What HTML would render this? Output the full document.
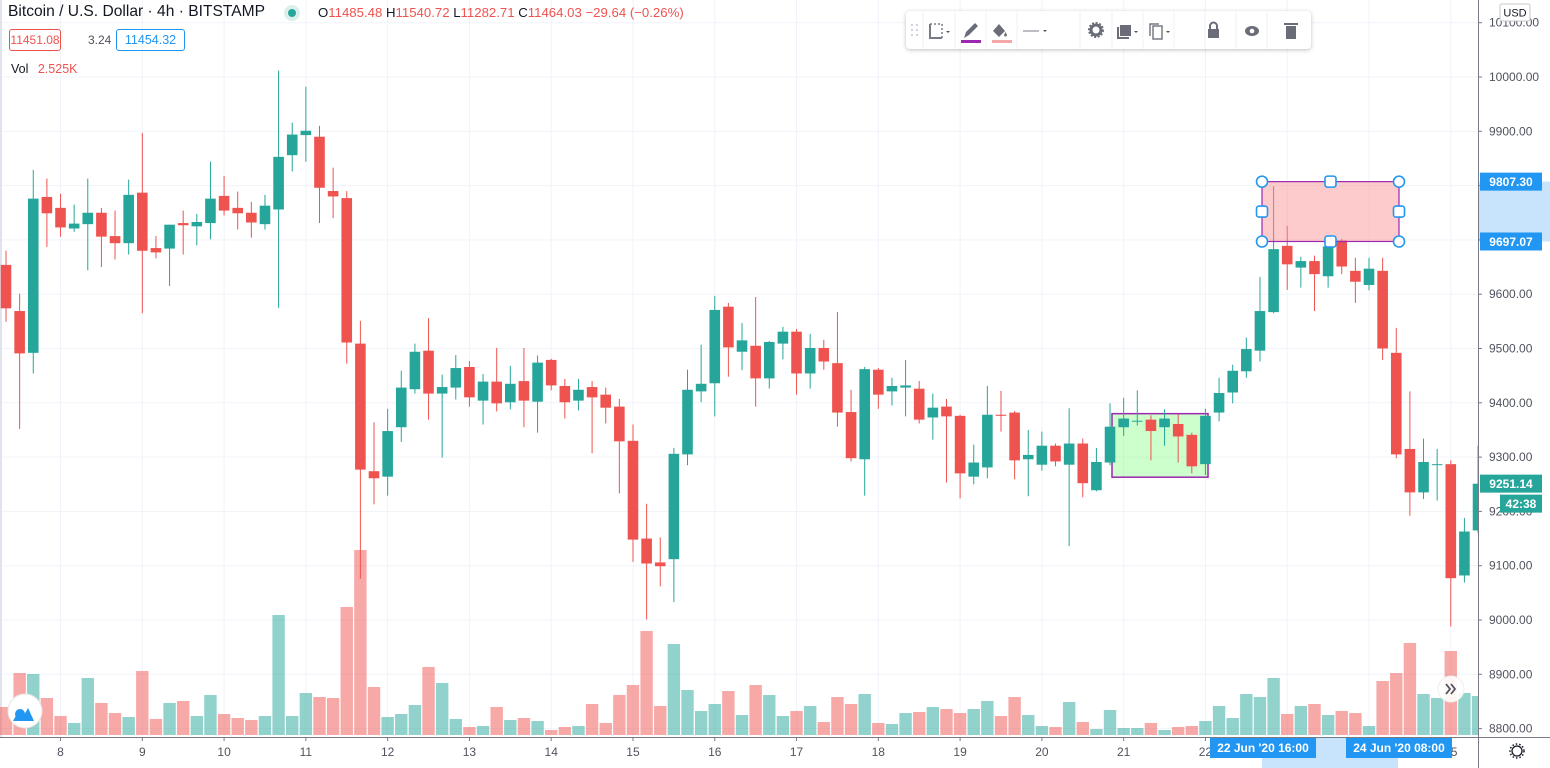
<!DOCTYPE html>
<html><head><meta charset="utf-8"><style>
body{margin:0;width:1550px;height:768px;overflow:hidden;background:#fff;font-family:"Liberation Sans",sans-serif;}
#wrap{position:relative;width:1550px;height:768px;}
svg{position:absolute;left:0;top:0;}
.hdr{position:absolute;font-size:14px;color:#131722;white-space:nowrap;}
.tb{position:absolute;left:906px;top:11px;width:405px;height:38px;background:#fff;border-radius:4px;box-shadow:0 1px 4px rgba(0,0,0,0.25);}
</style></head><body>
<div id="wrap">
<svg id="chart" width="1550" height="768"></svg>
<div class="hdr" style="left:8px;top:3px;font-size:15.6px;color:#131722">Bitcoin / U.S. Dollar · 4h · BITSTAMP</div>
<div style="position:absolute;left:284px;top:5px;width:16px;height:16px;border-radius:8px;background:#dbf0ec"><div style="position:absolute;left:4px;top:4px;width:8px;height:8px;border-radius:4px;background:#26a69a"></div></div>
<div class="hdr" style="left:318px;top:5px;font-size:13.2px;color:#ef5350"><span style="color:#131722">O</span>11485.48 <span style="color:#131722">H</span>11540.72 <span style="color:#131722">L</span>11282.71 <span style="color:#131722">C</span>11464.03 −29.64 (−0.26%)</div>
<div style="position:absolute;left:9px;top:29px;width:50px;height:20px;border:1px solid #ef5350;border-radius:3px;color:#ef5350;font-size:12px;text-align:center;line-height:20px">11451.08</div>
<div class="hdr" style="left:88px;top:33px;font-size:12px;color:#50535e">3.24</div>
<div style="position:absolute;left:116px;top:29px;width:67px;height:20px;border:1px solid #2196f3;border-radius:3px;color:#2196f3;font-size:12.5px;text-align:center;line-height:20px">11454.32</div>
<div class="hdr" style="left:11px;top:62px;font-size:12.5px;color:#131722">Vol <span style="color:#ef5350;margin-left:6px">2.525K</span></div>
<div class="tb">
<svg width="405" height="38" style="position:absolute;left:0;top:0">
<g fill="#cfd3dc"><rect x="5" y="13" width="2" height="2"/><rect x="10" y="13" width="2" height="2"/><rect x="5" y="18" width="2" height="2"/><rect x="10" y="18" width="2" height="2"/><rect x="5" y="23" width="2" height="2"/><rect x="10" y="23" width="2" height="2"/></g>
<g stroke="#eef0f3"><line x1="17" y1="0" x2="17" y2="38"/><line x1="49" y1="0" x2="49" y2="38"/><line x1="80" y1="0" x2="80" y2="38"/><line x1="111" y1="0" x2="111" y2="38"/><line x1="174" y1="0" x2="174" y2="38"/><line x1="206" y1="0" x2="206" y2="38"/><line x1="237" y1="0" x2="237" y2="38"/><line x1="268" y1="0" x2="268" y2="38"/><line x1="299" y1="0" x2="299" y2="38"/><line x1="330" y1="0" x2="330" y2="38"/><line x1="361" y1="0" x2="361" y2="38"/></g>
<g><path d="M24 13v14h12" stroke="#787b86" stroke-width="2" fill="none"/><path d="M24 13h12v14" stroke="#787b86" stroke-width="1.5" stroke-dasharray="2 2" fill="none"/><path d="M40 20l2 2 2-2z" fill="#50535e"/></g>
<g><path d="M58 27l2-6 9-9 3 3-9 9z" fill="#6a6d78"/><rect x="55" y="29" width="20" height="3" fill="#9c27b0"/></g>
<g><path d="M87 20l6-7 6 7-6 6z" fill="#6a6d78"/><path d="M101 24c0 2-3 2-3 0l1.5-3z" fill="#6a6d78"/><rect x="86" y="29" width="20" height="3" fill="#f4a7a7"/></g>
<g><line x1="117" y1="20" x2="133" y2="20" stroke="#787b86"/><path d="M137 19l2 2 2-2z" fill="#50535e"/></g>
<g><circle cx="190" cy="19" r="5" fill="none" stroke="#6a6d78" stroke-width="3"/><circle cx="190" cy="19" r="7" fill="none" stroke="#6a6d78" stroke-width="2" stroke-dasharray="2 1.6"/></g>
<g><rect x="214" y="14" width="11" height="11" fill="#6a6d78"/><path d="M212 16v11h11" stroke="#6a6d78" stroke-width="2" fill="none"/><path d="M228 20l2 2 2-2z" fill="#50535e"/></g>
<g><rect x="247" y="15" width="9" height="13" fill="none" stroke="#787b86" stroke-width="1.5"/><path d="M244 25v-12h9" stroke="#787b86" stroke-width="1.5" fill="none"/><path d="M260 20l2 2 2-2z" fill="#50535e"/></g>
<g><rect x="302" y="18" width="11" height="9" fill="#6a6d78"/><path d="M304 18v-3a3.5 3.5 0 0 1 7 0v3" stroke="#6a6d78" stroke-width="2" fill="none"/></g>
<g><ellipse cx="346" cy="20" rx="7" ry="5" fill="#6a6d78"/><circle cx="346" cy="20" r="2.3" fill="#fff"/></g>
<g><rect x="380" y="15" width="10" height="13" fill="#6a6d78"/><rect x="378" y="12" width="14" height="2" fill="#6a6d78"/></g>
</svg></div>
</div>
<script>
const opens=[9654,9569,9492,9779,9759,9721,9729,9750,9707,9694,9787,9685,9684,9731,9725,9731,9781,9759,9750,9729,9756,9856,9893,9890,9790,9777,9509,9274,9264,9355,9425,9496,9417,9428,9466,9404,9439,9401,9440,9402,9479,9431,9404,9429,9415,9393,9330,9150,9106,9112,9305,9421,9436,9577,9494,9505,9445,9509,9531,9454,9501,9473,9383,9296,9461,9421,9428,9426,9373,9393,9376,9264,9281,9378,9382,9296,9286,9321,9286,9325,9239,9290,9355,9366,9369,9355,9361,9341,9287,9382,9419,9458,9496,9567,9689,9649,9661,9633,9699,9643,9617,9643,9492,9315,9235,9286,9287,9082,9165];
const highs=[9680,9601,9829,9813,9785,9765,9813,9759,9754,9811,9897,9707,9728,9754,9748,9844,9818,9789,9770,9783,10012,9916,9982,9910,9833,9790,9551,9364,9389,9459,9509,9556,9452,9488,9477,9453,9501,9468,9501,9487,9481,9444,9444,9440,9428,9407,9360,9214,9152,9317,9461,9507,9597,9584,9547,9595,9514,9540,9536,9527,9516,9567,9424,9466,9464,9446,9479,9440,9417,9407,9378,9323,9431,9422,9385,9350,9347,9325,9390,9334,9317,9399,9409,9423,9377,9388,9379,9345,9389,9446,9470,9520,9632,9799,9726,9669,9671,9700,9702,9667,9667,9667,9538,9421,9334,9315,9294,9188,9321];
const lows=[9549,9352,9454,9687,9706,9715,9644,9650,9664,9673,9565,9666,9615,9673,9690,9701,9745,9719,9704,9719,9575,9826,9844,9731,9740,9472,9076,9213,9229,9328,9417,9369,9299,9406,9393,9360,9384,9388,9355,9345,9423,9371,9386,9307,9362,9233,9107,9001,9062,9033,9285,9401,9375,9448,9460,9393,9426,9480,9415,9426,9461,9356,9292,9229,9389,9395,9375,9362,9332,9253,9224,9250,9261,9347,9259,9228,9275,9283,9136,9226,9237,9285,9339,9358,9294,9321,9290,9270,9267,9366,9399,9446,9476,9565,9608,9612,9569,9612,9637,9584,9607,9479,9298,9192,9223,9220,8988,9069,9160];
const closes=[9574,9491,9776,9749,9723,9730,9750,9706,9694,9783,9680,9677,9728,9727,9733,9776,9754,9749,9732,9763,9853,9894,9901,9796,9780,9511,9277,9261,9348,9428,9494,9417,9429,9464,9410,9439,9399,9435,9404,9474,9432,9401,9424,9410,9391,9329,9148,9104,9099,9306,9424,9435,9571,9502,9515,9445,9512,9531,9454,9501,9476,9382,9298,9462,9415,9431,9432,9369,9391,9375,9270,9290,9378,9376,9294,9304,9321,9292,9325,9252,9291,9356,9371,9367,9348,9371,9338,9283,9376,9418,9459,9499,9569,9683,9655,9661,9637,9688,9651,9623,9647,9500,9305,9235,9291,9287,9077,9163,9251];
const volumes=[28,62,61,37,19,12,57,32,22,18,64,16,32,34,19,40,21,17,15,19,120,19,42,38,37,128,185,48,18,21,30,68,52,16,8,9,28,15,17,14,5,8,9,31,12,40,50,104,29,91,45,24,31,44,20,50,40,19,24,29,13,38,31,41,12,11,22,23,28,26,22,26,34,19,38,20,9,8,33,13,6,25,7,7,12,5,8,9,14,29,17,41,38,57,21,29,31,20,24,22,9,54,62,92,41,37,84,42,39];
const dayLabels=["8","9","10","11","12","13","14","15","16","17","18","19","20","21","22","23","24","25"];
const priceTicks=[10100,10000,9900,9800,9700,9600,9500,9400,9300,9200,9100,9000,8900,8800];
const zoneTop=[9807.30,9697.07];
const zoneGreen=[9380,9263];
const lastPrice=9251.14;

const NS="http://www.w3.org/2000/svg";
const svg=document.getElementById('chart');
const X0=6,DX=13.63,PLOT_R=1478;
function xAt(i){return X0+DX*i;}
function yP(p){return 77+(10000-p)*0.543;}
function yV(v){return 735-v;}
function mk(tag,attrs,parent){const e=document.createElementNS(NS,tag);for(const k in attrs)e.setAttribute(k,attrs[k]);(parent||svg).appendChild(e);return e;}
const GREEN="#26a69a",RED="#ef5350";

const grid=mk('g',{});


priceTicks.forEach(p=>{mk('line',{x1:0,x2:PLOT_R,y1:yP(p),y2:yP(p),stroke:'#f0f3fa','stroke-width':1},grid);});
dayLabels.forEach((d,k)=>{const x=xAt(4+6*k);mk('line',{x1:x,x2:x,y1:0,y2:737,stroke:'#f0f3fa','stroke-width':1},grid);});
mk('rect',{x:0,y:0,width:2,height:768,fill:'#e0e3eb'});

const gz=mk('rect',{x:1112,y:yP(zoneGreen[0]),width:96,height:yP(zoneGreen[1])-yP(zoneGreen[0]),fill:'rgba(120,255,120,0.38)',stroke:'#9c27b0','stroke-width':1.5});



const vg=mk('g',{});


volumes.forEach((v,i)=>{const up=closes[i]>=opens[i];
 const r=mk('rect',{x:xAt(i)-6.2,y:yV(v),width:12.4,height:v,fill:up?'rgba(38,166,154,0.5)':'rgba(239,83,80,0.5)'},vg);
 
 
});

const cg=mk('g',{});


opens.forEach((o,i)=>{const c=closes[i],up=c>=o,col=up?GREEN:RED,x=xAt(i);
 const g=mk('g',{},cg);
 
 
 mk('rect',{x:x-0.5,y:yP(highs[i]),width:1,height:yP(lows[i])-yP(highs[i]),fill:col},g);
 const t=yP(Math.max(o,c)),b=yP(Math.min(o,c));
 mk('rect',{x:x-5.3,y:t,width:10.6,height:Math.max(1,b-t),fill:col},g);
});

const rx1=1262,rx2=1399,ry1=yP(zoneTop[0]),ry2=yP(zoneTop[1]);
const rz=mk('rect',{x:rx1,y:ry1,width:rx2-rx1,height:ry2-ry1,fill:'rgba(250,140,140,0.45)',stroke:'#9c27b0','stroke-width':1.2});


const hx=[rx1,(rx1+rx2)/2,rx2],hy=[ry1,(ry1+ry2)/2,ry2];
hx.forEach((x,a)=>hy.forEach((y,b)=>{if(a===1&&b===1)return;
 let h;
 if((a!==1)&&(b!==1)) h=mk('circle',{cx:x,cy:y,r:5.5,fill:'#fff',stroke:'#2196f3','stroke-width':1.6});
 else h=mk('rect',{x:x-5.5,y:y-5.5,width:11,height:11,rx:2.5,fill:'#fff',stroke:'#2196f3','stroke-width':1.6});
 
 
}));

const ax=mk('g',{});


mk('rect',{x:PLOT_R,y:0,width:72,height:737,fill:'#fff'},ax);
mk('line',{x1:PLOT_R+0.5,x2:PLOT_R+0.5,y1:0,y2:768,stroke:'#787b86','stroke-width':1},ax);
mk('rect',{x:PLOT_R+1,y:ry1,width:71,height:ry2-ry1,fill:'#c8e4fc'},ax);
priceTicks.forEach(p=>{const y=yP(p);mk('line',{x1:PLOT_R,x2:PLOT_R+4,y1:y,y2:y,stroke:'#787b86'},ax);
 const t=mk('text',{x:1489,y:y+4,'font-size':12,fill:'#50535e','font-family':'Liberation Sans, sans-serif'},ax);t.textContent=p.toFixed(2);});
mk('rect',{x:1500,y:4,width:30,height:17,fill:'#fff',stroke:'#c4c7cf',rx:2},ax);
const ut=mk('text',{x:1515,y:16.5,'font-size':11,fill:'#131722','text-anchor':'middle','font-family':'Liberation Sans, sans-serif'},ax);ut.textContent='USD';


function tag(y,txt,bg,w,x){const g=mk('g',{},ax);mk('rect',{x:x||1480,y:y-9,width:w||62,height:18,fill:bg},g);
 const t=mk('text',{x:(x||1480)+(w||62)/2,y:y+4.5,'font-size':12,'font-weight':'bold',fill:'#fff','text-anchor':'middle','font-family':'Liberation Sans, sans-serif'},g);t.textContent=txt;return g;}
const t1=tag(ry1,zoneTop[0].toFixed(2),'#2196f3');


const t2=tag(ry2,zoneTop[1].toFixed(2),'#2196f3');


const t3=tag(yP(lastPrice),lastPrice.toFixed(2),GREEN);


const t4=tag(yP(lastPrice)+20,'42:38',GREEN,42,1500);



const tx=mk('g',{});


mk('rect',{x:0,y:737,width:PLOT_R,height:31,fill:'#fff'},tx);
mk('line',{x1:0,x2:1550,y1:737.5,y2:737.5,stroke:'#787b86'},tx);
mk('rect',{x:1262,y:738,width:136,height:30,fill:'#c8e4fc'},tx);
dayLabels.forEach((d,k)=>{const x=xAt(4+6*k);mk('line',{x1:x,x2:x,y1:737,y2:741,stroke:'#787b86'},tx);
 const t=mk('text',{x:x,y:756,'font-size':12,fill:'#50535e','text-anchor':'middle','font-family':'Liberation Sans, sans-serif'},tx);t.textContent=d;});
function ttag(x,w,txt){const g=mk('g',{},tx);mk('rect',{x:x,y:738,width:w,height:20,fill:'#2196f3'},g);
 const t=mk('text',{x:x+w/2,y:752,'font-size':12,'font-weight':'bold',fill:'#fff','text-anchor':'middle','font-family':'Liberation Sans, sans-serif'},g);t.textContent=txt;return g;}
const tt1=ttag(1210,106,"22 Jun '20   16:00");


const tt2=ttag(1346,106,"24 Jun '20   08:00");


const gear=mk('g',{});


mk('circle',{cx:1517,cy:751,r:5,fill:'none',stroke:'#131722','stroke-width':1.3},gear);
mk('circle',{cx:1517,cy:751,r:7,fill:'none',stroke:'#131722','stroke-width':1.5,'stroke-dasharray':'1.5 2'},gear);

const logo=mk('g',{});


mk('circle',{cx:25,cy:711,r:17,fill:'#fff',stroke:'#e6e6e6'},logo);
mk('path',{d:'M13 721 l5-9 5 5 5-9 6 13z',fill:'#2196f3'},logo);
mk('circle',{cx:20,cy:714,r:5,fill:'#2196f3'},logo);
const sb=mk('g',{});


mk('circle',{cx:1451,cy:689,r:13,fill:'rgba(255,255,255,0.9)',stroke:'#eee'},sb);
mk('path',{d:'M1446 684l4 5-4 5M1451 684l4 5-4 5',fill:'none',stroke:'#50535e','stroke-width':1.8},sb);
</script>
</body></html>
